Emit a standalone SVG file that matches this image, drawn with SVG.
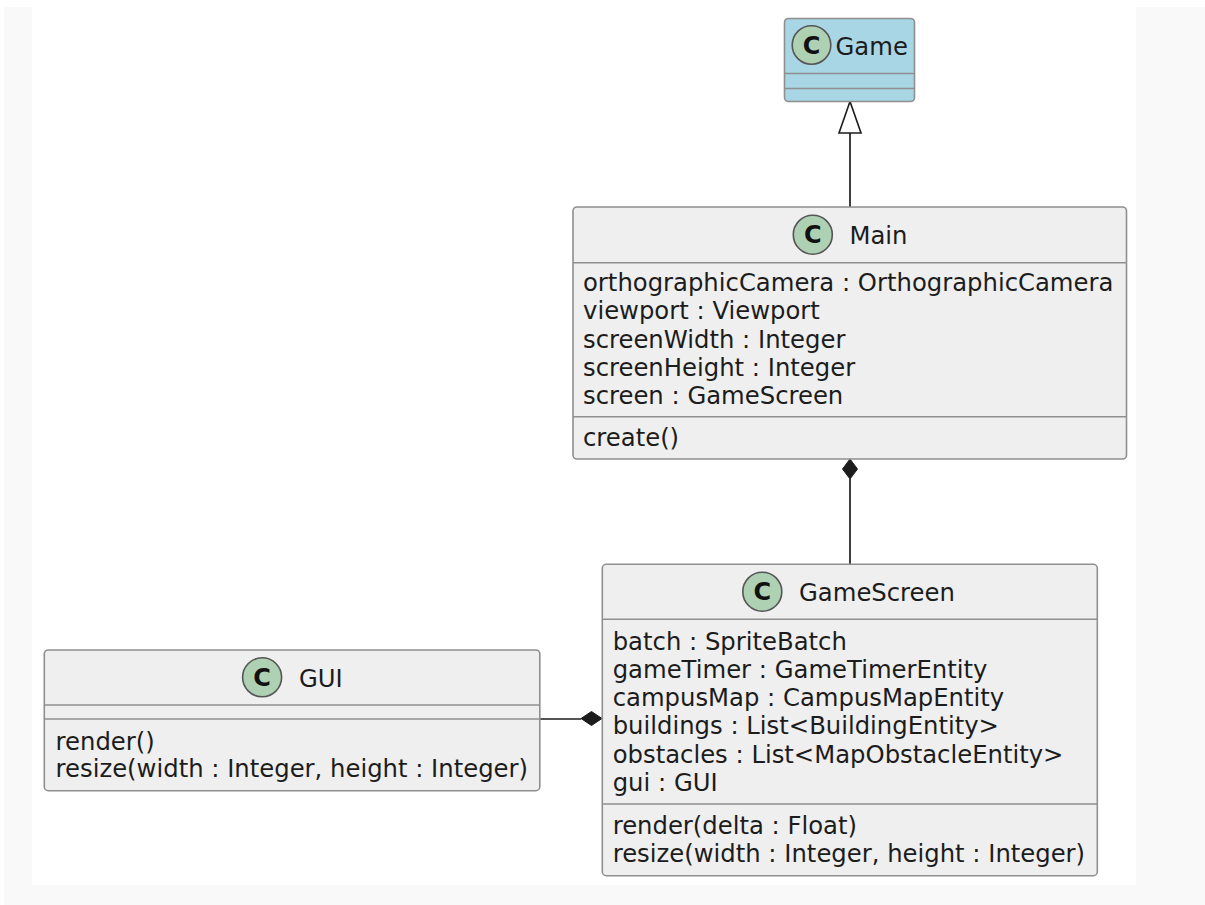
<svg xmlns="http://www.w3.org/2000/svg" width="1205" height="905" viewBox="0 0 1205 905">
  <style>
    .box { fill: #efefef; stroke: #8f8f8f; stroke-width: 1.6; }
    .abstract { fill: #a9d6e5; stroke: #8f8f8f; stroke-width: 1.6; }
    .sep { stroke: #8f8f8f; stroke-width: 1.6; fill: none; }
    .badge { fill: #add1b2; stroke: #555; stroke-width: 1.6; }
    .badge-c { font-family: "DejaVu Sans", "Liberation Sans", sans-serif; font-weight: bold; font-size: 24px; fill: #111; text-anchor: middle; }
    .name { font-family: "DejaVu Sans", "Liberation Sans", sans-serif; font-size: 24.3px; fill: #1c1c1c; }
    .member { font-family: "DejaVu Sans", "Liberation Sans", sans-serif; font-size: 24.3px; fill: #1c1c1c; }
    .link { stroke: #1c1c1c; stroke-width: 1.7; fill: none; }
    .diamond { fill: #1c1c1c; stroke: #1c1c1c; stroke-width: 1; }
    .triangle { fill: #ffffff; stroke: #1c1c1c; stroke-width: 1.6; }
  </style>

  <!-- page backdrop -->
  <rect x="0" y="0" width="1205" height="905" fill="#ffffff"/>
  <rect x="4" y="7" width="1201" height="898" fill="#f9f9f9"/>
  <rect x="32" y="7" width="1104" height="878" fill="#ffffff"/>

  <!-- connectors -->
  <g id="connectors">
    <!-- Main extends Game (hollow triangle) -->
    <line class="link" x1="850" y1="207" x2="850" y2="133"/>
    <polygon class="triangle" points="850,101.5 839,133 861,133"/>
    <!-- Main composes GameScreen (filled diamond at Main) -->
    <line class="link" x1="850" y1="479" x2="850" y2="564"/>
    <polygon class="diamond" points="850,459 857.5,469 850,479 842.5,469"/>
    <!-- GameScreen composes GUI (filled diamond at GameScreen) -->
    <line class="link" x1="540" y1="719" x2="581" y2="719"/>
    <polygon class="diamond" points="602,718.5 591.5,725.5 581,718.5 591.5,711.5"/>
  </g>

  <!-- Game -->
  <g id="Game">
    <rect class="abstract" x="784.5" y="18.5" width="130" height="83" rx="4"/>
    <circle class="badge" cx="811.5" cy="45" r="19.3"/>
    <text class="badge-c" x="811.5" y="53.5">C</text>
    <text class="name" x="835.5" y="55">Game</text>
    <line class="sep" x1="784.5" y1="73.5" x2="914.5" y2="73.5"/>
    <line class="sep" x1="784.5" y1="88.5" x2="914.5" y2="88.5"/>
  </g>

  <!-- Main -->
  <g id="Main">
    <rect class="box" x="573" y="207" width="553.5" height="252" rx="4"/>
    <circle class="badge" cx="812.8" cy="234.7" r="19.5"/>
    <text class="badge-c" x="812.8" y="243.3">C</text>
    <text class="name" x="849.5" y="243.5">Main</text>
    <line class="sep" x1="573" y1="262.7" x2="1126.5" y2="262.7"/>
    <text class="member" x="583" y="291">orthographicCamera : OrthographicCamera</text>
    <text class="member" x="583" y="319.3">viewport : Viewport</text>
    <text class="member" x="583" y="347.6">screenWidth : Integer</text>
    <text class="member" x="583" y="375.9">screenHeight : Integer</text>
    <text class="member" x="583" y="404.2">screen : GameScreen</text>
    <line class="sep" x1="573" y1="416.7" x2="1126.5" y2="416.7"/>
    <text class="member" x="583" y="445.7">create()</text>
  </g>

  <!-- GameScreen -->
  <g id="GameScreen">
    <rect class="box" x="602.3" y="564.3" width="495" height="311.4" rx="4"/>
    <circle class="badge" cx="762.3" cy="591.7" r="19.5"/>
    <text class="badge-c" x="762.3" y="600.3">C</text>
    <text class="name" x="799" y="601">GameScreen</text>
    <line class="sep" x1="602.3" y1="619.3" x2="1097.3" y2="619.3"/>
    <text class="member" x="612.7" y="650">batch : SpriteBatch</text>
    <text class="member" x="612.7" y="678.2">gameTimer : GameTimerEntity</text>
    <text class="member" x="612.7" y="706.3">campusMap : CampusMapEntity</text>
    <text class="member" x="612.7" y="734.4">buildings : List&lt;BuildingEntity&gt;</text>
    <text class="member" x="612.7" y="762.5">obstacles : List&lt;MapObstacleEntity&gt;</text>
    <text class="member" x="612.7" y="790.6">gui : GUI</text>
    <line class="sep" x1="602.3" y1="804" x2="1097.3" y2="804"/>
    <text class="member" x="612.7" y="834.3">render(delta : Float)</text>
    <text class="member" x="612.7" y="862">resize(width : Integer, height : Integer)</text>
  </g>

  <!-- GUI -->
  <g id="GUI">
    <rect class="box" x="44.3" y="650" width="495.5" height="140.7" rx="4"/>
    <circle class="badge" cx="262.1" cy="677.3" r="19.5"/>
    <text class="badge-c" x="262.1" y="685.9">C</text>
    <text class="name" x="299" y="686.7">GUI</text>
    <line class="sep" x1="44.3" y1="705" x2="539.8" y2="705"/>
    <line class="sep" x1="44.3" y1="719" x2="539.8" y2="719"/>
    <text class="member" x="55.6" y="750">render()</text>
    <text class="member" x="55.6" y="777">resize(width : Integer, height : Integer)</text>
  </g>
</svg>
